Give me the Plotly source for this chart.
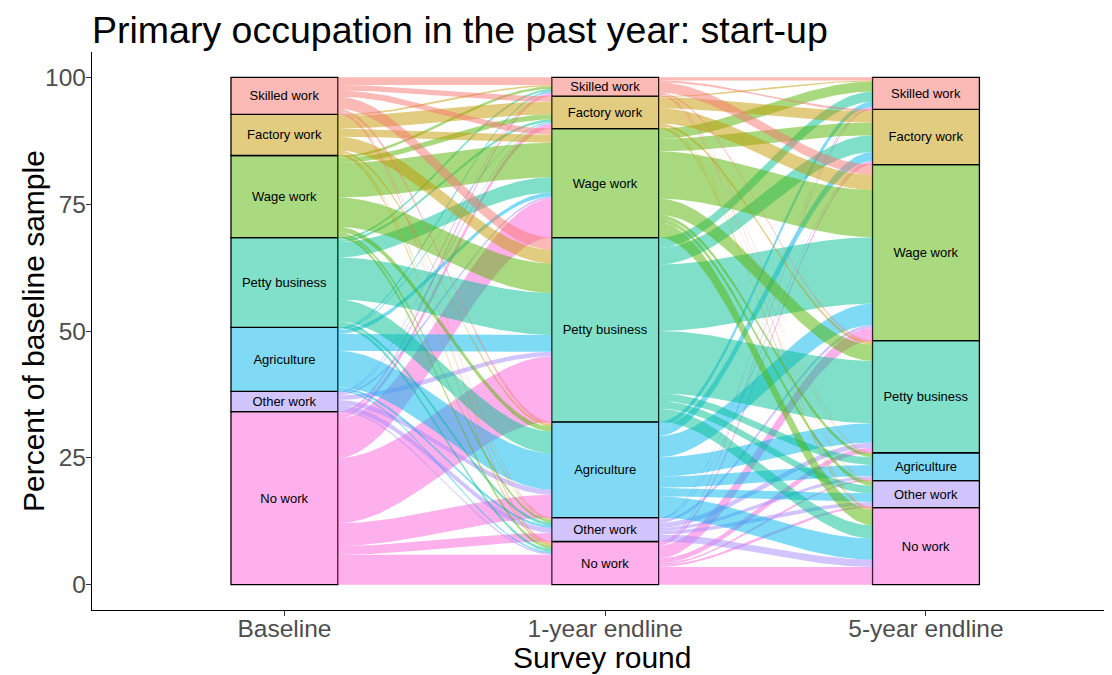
import numpy as np
import plotly.graph_objects as go

# Categories from bottom to top of each stack
categories = ["No work", "Other work", "Agriculture", "Petty business",
              "Wage work", "Factory work", "Skilled work"]
rounds = ["Baseline", "1-year endline", "5-year endline"]
colors = ["#FB61D7", "#A58AFF", "#00B6EB", "#00C094", "#53B400", "#C49A00", "#F8766D"]
y_ticks = [0, 25, 50, 75, 100]

# Percent of baseline sample moving from row category (earlier round)
# to column category (later round); order as in `categories`
baseline_to_1yr = [
    [5.9, 1.7, 4.5, 12.9, 7.7, 0.9, 0.5],   # No work
    [0.3, 1.0, 1.0, 0.9, 0.4, 0.2, 0.2],    # Other work
    [0.3, 0.5, 7.2, 3.3, 0.8, 0.2, 0.3],    # Agriculture
    [0.6, 0.6, 4.3, 8.3, 3.0, 0.5, 0.4],    # Petty business
    [0.6, 0.5, 1.0, 5.8, 6.8, 1.0, 0.5],    # Wage work
    [0.4, 0.2, 0.4, 2.7, 1.6, 2.5, 0.3],    # Factory work
    [0.4, 0.2, 0.5, 2.4, 1.2, 1.1, 1.5],    # Skilled work
]
yr1_to_yr5 = [
    [3.5, 0.4, 0.3, 1.0, 2.5, 0.5, 0.3],    # No work
    [1.4, 0.7, 0.6, 1.0, 0.6, 0.2, 0.2],    # Other work
    [4.2, 1.7, 2.2, 3.8, 4.2, 1.8, 1.0],    # Agriculture
    [2.6, 1.5, 1.5, 12.3, 13.1, 3.3, 2.0],  # Petty business
    [3.0, 0.8, 0.7, 3.2, 9.3, 2.5, 2.0],    # Wage work
    [0.3, 0.1, 0.1, 0.5, 3.0, 2.2, 0.2],    # Factory work
    [0.2, 0.1, 0.1, 0.3, 2.0, 0.4, 0.6],    # Skilled work
]


def rgba(hexc, a):
    h = hexc.lstrip("#")
    r, g, b = int(h[0:2], 16), int(h[2:4], 16), int(h[4:6], 16)
    return f"rgba({r},{g},{b},{a})"


def blend(hexc, a):
    h = hexc.lstrip("#")
    r, g, b = int(h[0:2], 16), int(h[2:4], 16), int(h[4:6], 16)
    f = lambda c: int(round(255 - (255 - c) * a))
    return f"rgb({f(r)},{f(g)},{f(b)})"


M1 = np.array(baseline_to_1yr)
M2 = np.array(yr1_to_yr5)
strata = [M1.sum(axis=1), M1.sum(axis=0), M2.sum(axis=0)]
gaps = [M1, M2]
n = len(categories)
W = 1 / 3

fig = go.Figure()

t = np.linspace(0, 1, 80)
s = t * t * (3 - 2 * t)

for g, M in enumerate(gaps):
    lb = np.concatenate([[0], np.cumsum(strata[g])[:-1]])
    rb = np.concatenate([[0], np.cumsum(strata[g + 1])[:-1]])
    lpos = np.zeros((n, n))
    rpos = np.zeros((n, n))
    cur = lb.copy()
    for i in range(n):
        for j in range(n):
            lpos[i, j] = cur[i]
            cur[i] += M[i, j]
    cur = rb.copy()
    for j in range(n):
        for i in range(n):
            rpos[i, j] = cur[j]
            cur[j] += M[i, j]
    x0 = g + 1 + W / 2
    x1 = g + 2 - W / 2
    xs = x0 + (x1 - x0) * t
    for i in range(n):
        for j in range(n):
            v = M[i, j]
            if v <= 0:
                continue
            yb = lpos[i, j] + (rpos[i, j] - lpos[i, j]) * s
            yt = yb + v
            fig.add_trace(go.Scatter(
                x=np.concatenate([xs, xs[::-1]]),
                y=np.concatenate([yb, yt[::-1]]),
                mode="lines", fill="toself", line=dict(width=0),
                fillcolor=rgba(colors[i], 0.5),
                hoverinfo="skip", showlegend=False))

# strata boxes
bottoms = [np.concatenate([[0], np.cumsum(st)[:-1]]) for st in strata]
for k, cat in enumerate(categories):
    fig.add_trace(go.Bar(
        x=[1, 2, 3],
        y=[strata[r][k] for r in range(3)],
        base=[bottoms[r][k] for r in range(3)],
        width=W,
        marker=dict(color=blend(colors[k], 0.5), line=dict(color="black", width=1.3)),
        text=[cat] * 3, textposition="inside", insidetextanchor="middle",
        textangle=0, textfont=dict(size=13, color="black"),
        hoverinfo="skip", showlegend=False))

# the page body adds an 8px offset; size the figure to fill the window exactly
font_family = "Liberation Sans, Arial, Helvetica, sans-serif"
fig.update_layout(
    width=1104, height=667,
    margin=dict(l=84, r=0, t=44, b=65),
    plot_bgcolor="white", paper_bgcolor="white",
    barmode="overlay",
    font=dict(family=font_family),
    uniformtext=dict(minsize=13, mode="show"),
    title=dict(text="Primary occupation in the past year: start-up",
               x=0, xref="paper", xanchor="left",
               y=1 - 22 / 667, yref="container", yanchor="middle",
               font=dict(size=37.5, color="black", family=font_family)),
    xaxis=dict(range=[0.4, 3.58], tickvals=[1, 2, 3], ticktext=rounds,
               showline=True, linecolor="black", linewidth=1.2,
               ticks="outside", ticklen=5, tickcolor="#333333", tickwidth=1.2,
               tickfont=dict(size=24.5, color="#4D4D4D"), ticklabelstandoff=-9,
               showgrid=False, zeroline=False, automargin=False),
    yaxis=dict(range=[-5, 105], tickvals=y_ticks, ticktext=[str(v) for v in y_ticks],
               showline=True, linecolor="black", linewidth=1.2,
               ticks="outside", ticklen=5, tickcolor="#333333", tickwidth=1.2,
               tickfont=dict(size=24.5, color="#4D4D4D"), ticklabelstandoff=-5,
               showgrid=False, zeroline=False, automargin=False),
    annotations=[
        dict(text="Survey round", xref="paper", yref="paper", x=0.5, y=0,
             yshift=-47, xanchor="center", yanchor="middle", showarrow=False,
             font=dict(size=30, color="black")),
        dict(text="Percent of baseline sample", xref="paper", yref="paper", x=0, y=0.5,
             xshift=-59, xanchor="center", yanchor="middle", showarrow=False,
             textangle=-90, font=dict(size=30, color="black")),
    ],
)

fig.write_html("out.html")
